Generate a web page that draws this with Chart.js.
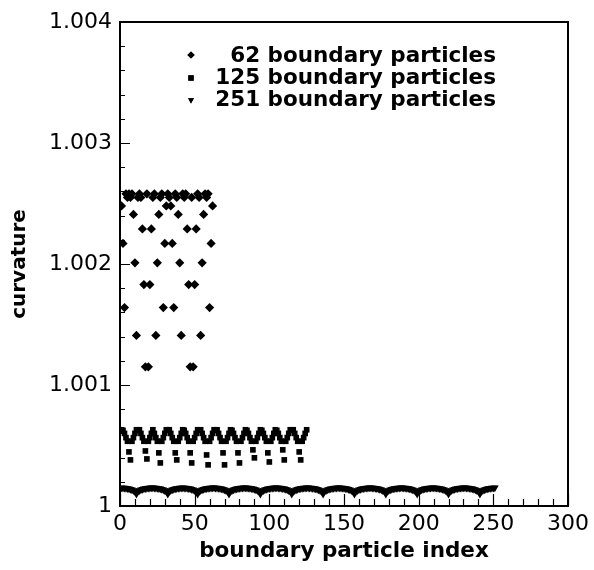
<!DOCTYPE html>
<html>
<head>
<meta charset="utf-8">
<script src="https://cdn.jsdelivr.net/npm/chart.js"></script>
<style>
  body { margin: 0; background: #fff; }
  #wrap { width: 594px; height: 570px; }
</style>
</head>
<body>
<div id="wrap"><canvas id="myChart" width="594" height="570"></canvas></div>
<script>
// curvature per boundary particle, three resolutions
var seriesLabels = ['62 boundary particles', '125 boundary particles', '251 boundary particles'];

var curv62 = [
  1.00248,1.00217,1.00164,1.00258,1.00255,1.00258,1.00255,1.00258,1.00241,1.00201,
  1.00141,1.00255,1.00258,1.00255,1.00229,1.00183,1.00115,1.00258,1.00115,1.00183,
  1.00229,1.00255,1.00258,1.00141,1.00201,1.00241,1.00255,1.00258,1.00164,1.00217,
  1.00248,1.00258,1.00255,1.00248,1.00217,1.00164,1.00258,1.00255,1.00241,1.00201,
  1.00141,1.00258,1.00255,1.00258,1.00229,1.00183,1.00115,1.00255,1.00115,1.00183,
  1.00229,1.00258,1.00255,1.00141,1.00201,1.00241,1.00258,1.00255,1.00258,1.00164,
  1.00217,1.00248
];

var curv125 = [
  1.000630,1.000625,1.000600,1.000565,1.000535,1.000447,1.000381,1.000535,1.000565,1.000600,
  1.000630,1.000625,1.000630,1.000600,1.000565,1.000535,1.000455,1.000389,1.000535,1.000565,
  1.000600,1.000630,1.000600,1.000565,1.000535,1.000439,1.000356,1.000535,1.000565,1.000600,
  1.000630,1.000625,1.000630,1.000600,1.000565,1.000535,1.000439,1.000381,1.000535,1.000565,
  1.000600,1.000630,1.000625,1.000600,1.000565,1.000535,1.000439,1.000356,1.000535,1.000565,
  1.000600,1.000630,1.000625,1.000630,1.000600,1.000565,1.000535,1.000422,1.000340,1.000535,
  1.000565,1.000600,1.000630,1.000625,1.000630,1.000600,1.000565,1.000535,1.000439,1.000340,
  1.000535,1.000565,1.000600,1.000630,1.000625,1.000600,1.000565,1.000535,1.000439,1.000356,
  1.000535,1.000565,1.000600,1.000630,1.000625,1.000600,1.000565,1.000535,1.000464,1.000398,
  1.000535,1.000565,1.000600,1.000630,1.000625,1.000600,1.000565,1.000535,1.000439,1.000364,
  1.000535,1.000565,1.000600,1.000630,1.000625,1.000600,1.000565,1.000535,1.000464,1.000381,
  1.000535,1.000565,1.000600,1.000630,1.000625,1.000630,1.000600,1.000565,1.000535,1.000447,
  1.000381,1.000535,1.000565,1.000600,1.000630
];

var curv251 = [
  1.000150,1.000149,1.000148,1.000147,1.000145,1.000142,1.000139,1.000135,1.000129,1.000121,
  1.000100,
  1.000121,1.000129,1.000135,1.000139,1.000142,1.000145,1.000147,1.000148,1.000149,1.000150,
  1.000150,1.000149,1.000148,1.000147,1.000145,1.000142,1.000139,1.000135,1.000129,1.000121,
  1.000100,
  1.000121,1.000129,1.000135,1.000139,1.000142,1.000145,1.000147,1.000148,1.000149,1.000150,
  1.000149,1.000148,1.000147,1.000145,1.000142,1.000139,1.000135,1.000129,1.000121,
  1.000100,
  1.000121,1.000129,1.000135,1.000139,1.000142,1.000145,1.000147,1.000148,1.000149,1.000150,
  1.000150,1.000149,1.000148,1.000147,1.000145,1.000142,1.000139,1.000135,1.000129,1.000121,
  1.000100,
  1.000121,1.000129,1.000135,1.000139,1.000142,1.000145,1.000147,1.000148,1.000149,1.000150,
  1.000150,1.000149,1.000148,1.000147,1.000145,1.000142,1.000139,1.000135,1.000129,1.000121,
  1.000100,
  1.000121,1.000129,1.000135,1.000139,1.000142,1.000145,1.000147,1.000148,1.000149,1.000150,
  1.000150,1.000149,1.000148,1.000147,1.000145,1.000142,1.000139,1.000135,1.000129,1.000121,
  1.000100,
  1.000121,1.000129,1.000135,1.000139,1.000142,1.000145,1.000147,1.000148,1.000149,1.000150,
  1.000150,1.000149,1.000148,1.000147,1.000145,1.000142,1.000139,1.000135,1.000129,1.000121,
  1.000100,
  1.000121,1.000129,1.000135,1.000139,1.000142,1.000145,1.000147,1.000148,1.000149,1.000150,
  1.000150,1.000149,1.000148,1.000147,1.000145,1.000142,1.000139,1.000135,1.000129,1.000121,
  1.000100,
  1.000121,1.000129,1.000135,1.000139,1.000142,1.000145,1.000147,1.000148,1.000149,1.000150,
  1.000150,1.000149,1.000148,1.000147,1.000145,1.000142,1.000139,1.000135,1.000129,1.000121,
  1.000100,
  1.000121,1.000129,1.000135,1.000139,1.000142,1.000145,1.000147,1.000148,1.000149,1.000150,
  1.000150,1.000149,1.000148,1.000147,1.000145,1.000142,1.000139,1.000135,1.000129,1.000121,
  1.000100,
  1.000121,1.000129,1.000135,1.000139,1.000142,1.000145,1.000147,1.000148,1.000149,1.000150,
  1.000150,1.000149,1.000148,1.000147,1.000145,1.000142,1.000139,1.000135,1.000129,1.000121,
  1.000100,
  1.000121,1.000129,1.000135,1.000139,1.000142,1.000145,1.000147,1.000148,1.000149,1.000150,
  1.000150,1.000149,1.000148,1.000147,1.000145,1.000142,1.000139,1.000135,1.000129,1.000121,
  1.000100,
  1.000121,1.000129,1.000135,1.000139,1.000142,1.000145,1.000147,1.000148,1.000149,1.000150
];

var xMin = 0, xMax = 300, xStep = 50, xMinor = 10;
var yMin = 1, yMax = 1.004, yStep = 0.001, yMinor = 0.0002;

var FONT = '"DejaVu Sans", sans-serif';

function toPoints(arr){
    var pts = [];
    for(let i = 0; i < arr.length; i++){
        pts.push({x: i + 1, y: arr[i]});
    }
    return pts;
}

// frame around the plot plus inward pointing ticks on the left and bottom
var innerTicks = {
    id: 'innerTicks',
    afterDraw: function(chart){
        var ctx = chart.ctx;
        var a = chart.chartArea;
        var xs = chart.scales.x, ys = chart.scales.y;
        ctx.save();
        ctx.strokeStyle = '#000';
        ctx.lineWidth = 1.2;
        ctx.beginPath();
        for(let v = xMin; v <= xMax + 1e-9; v += xMinor){
            var px = Math.round(xs.getPixelForValue(v)) + 0.5;
            var len = (Math.round(v) % xStep === 0) ? 12 : 7;
            ctx.moveTo(px, a.bottom);
            ctx.lineTo(px, a.bottom - len);
        }
        for(let k = 0; k <= Math.round((yMax - yMin) / yMinor); k++){
            var v2 = yMin + k * yMinor;
            var py = Math.round(ys.getPixelForValue(v2)) + 0.5;
            var len2 = (k % 5 === 0) ? 10 : 5;
            ctx.moveTo(a.left, py);
            ctx.lineTo(a.left + len2, py);
        }
        ctx.stroke();
        ctx.lineWidth = 2;
        ctx.strokeRect(a.left, a.top, a.right - a.left, a.bottom - a.top);
        ctx.restore();
    }
};

// legend drawn inside the plot, numbers right aligned
var innerLegend = {
    id: 'innerLegend',
    afterDraw: function(chart){
        var ctx = chart.ctx;
        var rows = [62, 84, 106];
        var marks = [55, 78, 100];
        ctx.save();
        ctx.fillStyle = '#000';
        ctx.font = 'bold 21.5px ' + FONT;
        ctx.textAlign = 'right';
        ctx.textBaseline = 'alphabetic';
        chart.data.datasets.forEach(function(ds, i){
            Chart.helpers.drawPoint(ctx, {
                pointStyle: ds.pointStyle,
                radius: ds.legendRadius,
                rotation: ds.rotation || 0,
                borderWidth: 0
            }, 191, marks[i]);
            ctx.fillStyle = '#000';
            ctx.fill();
            ctx.fillText(ds.label, 496, rows[i]);
        });
        ctx.restore();
    }
};

var ctx = document.getElementById('myChart').getContext('2d');
var myChart = new Chart(ctx, {
    type: 'scatter',
    data: {
        datasets: [{
            label: seriesLabels[0],
            data: toPoints(curv62),
            pointStyle: 'rectRot',
            pointRadius: 4.6,
            legendRadius: 3.6,
            backgroundColor: '#000',
            borderWidth: 0
        }, {
            label: seriesLabels[1],
            data: toPoints(curv125),
            pointStyle: 'rect',
            pointRadius: 4,
            legendRadius: 3.8,
            backgroundColor: '#000',
            borderWidth: 0
        }, {
            label: seriesLabels[2],
            data: toPoints(curv251),
            pointStyle: 'triangle',
            rotation: 180,
            pointRadius: 4.5,
            legendRadius: 3.4,
            backgroundColor: '#000',
            borderWidth: 0
        }]
    },
    options: {
        responsive: false,
        animation: false,
        layout: { padding: { top: 22, right: 22, left: 0, bottom: 0 } },
        plugins: {
            legend: { display: false },
            tooltip: { enabled: false }
        },
        scales: {
            x: {
                type: 'linear',
                min: xMin, max: xMax,
                afterFit: function(s){ s.height = 64; },
                grid: { display: false, drawTicks: false },
                border: { display: false },
                ticks: {
                    stepSize: xStep,
                    padding: 5,
                    color: '#000',
                    maxRotation: 0,
                    font: { family: FONT, size: 22 }
                },
                title: {
                    display: true,
                    text: 'boundary particle index',
                    color: '#000',
                    padding: { top: 0, bottom: 6 },
                    font: { family: FONT, size: 21.5, weight: 'bold' }
                }
            },
            y: {
                type: 'linear',
                min: yMin, max: yMax,
                afterFit: function(s){ s.width = 120; },
                grid: { display: false, drawTicks: false },
                border: { display: false },
                ticks: {
                    stepSize: yStep,
                    padding: 8,
                    color: '#000',
                    font: { family: FONT, size: 22 },
                    callback: function(v){
                        return Math.abs(v - 1) < 1e-9 ? '1' : v.toFixed(3);
                    }
                },
                title: {
                    display: true,
                    text: 'curvature',
                    color: '#000',
                    padding: { top: 8, bottom: 0 },
                    font: { family: FONT, size: 20, weight: 'bold' }
                }
            }
        }
    },
    plugins: [innerTicks, innerLegend]
});
</script>
</body>
</html>
